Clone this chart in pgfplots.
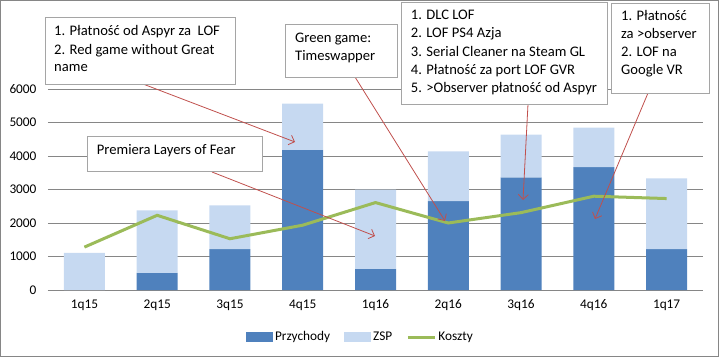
\documentclass[border=0pt]{standalone}
\usepackage{pgfplots}
\pgfplotsset{compat=1.18}
\usepackage{fontspec}
\setmainfont{Carlito}
\usetikzlibrary{arrows.meta}
\definecolor{przy}{HTML}{4F81BD}
\definecolor{zsp}{HTML}{C6D9F1}
\definecolor{kosz}{HTML}{9BBB59}
\definecolor{arr}{HTML}{C0504D}
\definecolor{gridc}{HTML}{868686}
\definecolor{boxc}{HTML}{A5A5A5}
\begin{document}
\begin{tikzpicture}[x=1pt,y=1pt]
\useasboundingbox (0,0) rectangle (719,357);
\draw[draw=gridc, line width=1pt] (0.5,0.5) rectangle (718.5,356.5);
\begin{axis}[
  at={(48pt,67pt)}, anchor=south west,
  scale only axis, width=655pt, height=201pt,
  xmin=-0.5, xmax=8.5, ymin=0, ymax=6000,
  enlargelimits=false,
  ybar stacked, bar width=41pt,
  reverse stacked plots=false,
  xtick={0,1,2,3,4,5,6,7,8},
  xticklabels={1q15,2q15,3q15,4q15,1q16,2q16,3q16,4q16,1q17},
  ytick={0,1000,2000,3000,4000,5000,6000},
  major tick length=0pt,
  ymajorgrids, grid style={gridc, line width=1pt},
  axis x line*=bottom, axis y line*=left,
  x axis line style={gridc, line width=1pt, -},
  y axis line style={draw=none},
  tick label style={font=\fontsize{13.3}{16}\selectfont},
  yticklabel style={xshift=-8pt},
  xticklabel style={yshift=-6pt},
  scaled y ticks=false,
  legend style={at={(0.477,-0.234)}, anchor=center, draw=none, fill=none,
    font=\fontsize{13.3}{16}\selectfont, legend columns=3,
    /tikz/every even column/.append style={column sep=12pt}},
  /pgf/number format/1000 sep={},
  /pgf/number format/assume math mode=true,
]
\addplot[fill=przy, draw=none,
  legend image code/.code={\fill[przy] (0pt,-5.3pt) rectangle (27pt,5.3pt);}]
  coordinates {(0,0) (1,510) (2,1220) (3,4180) (4,630) (5,2650) (6,3360) (7,3670) (8,1220)};
\addlegendentry{Przychody}
\addplot[fill=zsp, draw=none,
  legend image code/.code={\fill[zsp] (0pt,-5.3pt) rectangle (27pt,5.3pt);}]
  coordinates {(0,1110) (1,1870) (2,1310) (3,1380) (4,2370) (5,1490) (6,1280) (7,1180) (8,2110)};
\addlegendentry{ZSP}
\addplot[sharp plot, stack plots=false, draw=kosz, line width=3pt, mark=none,
  legend image code/.code={\draw[kosz, line width=3pt] (0pt,0pt) -- (27pt,0pt);}]
  coordinates {(0,1280) (1,2230) (2,1530) (3,1935) (4,2610) (5,2000) (6,2310) (7,2800) (8,2730)};
\addlegendentry{Koszty}
\end{axis}
\begin{scope}[shift={(0,357)}, yscale=-1]
  \tikzset{arw/.style={arr, line width=0.8pt, -{Straight Barb[length=5pt,width=10pt]}},
           bx/.style={draw=boxc, fill=white, line width=1pt},
           tx/.style={anchor=west, inner sep=0pt, text height=10pt, text depth=3pt,
                      font=\fontsize{14.6}{18}\selectfont}}
  \draw[arw] (143,84) -- (295,142);
  \draw[arw] (212,172) -- (375,236);
  \draw[arw] (355,77) -- (445,221);
  \draw[arw] (528,104) -- (523,200);
  \draw[arw] (648,93) -- (595,219);
  % box 1
  \draw[bx] (45,18) rectangle (235,84);
  \node[tx] at (54,32.3) {1. Płatność od Aspyr za\ \ LOF};
  \node[tx] at (54,50.7) {2. Red game without Great};
  \node[tx] at (54,68.3) {name};
  % box 2
  \draw[bx] (285,25) rectangle (397,77);
  \node[tx] at (295,39.3) {Green game:};
  \node[tx] at (295,57.3) {Timeswapper};
  % box 3
  \draw[bx] (401.7,2.5) rectangle (607.7,104);
  \node[tx] at (410.7,16) {1. DLC LOF};
  \node[tx] at (410.7,34.3) {2. LOF PS4 Azja};
  \node[tx] at (410.7,52.7) {3. Serial Cleaner na Steam GL};
  \node[tx] at (410.7,71) {4. Płatność za port LOF GVR};
  \node[tx] at (410.7,89) {5. >Observer płatność od Aspyr};
  % box 4
  \draw[bx] (611.7,4) rectangle (709,93);
  \node[tx] at (621,16.7) {1. Płatność};
  \node[tx] at (621,35) {za >observer};
  \node[tx] at (621,53.3) {2. LOF na};
  \node[tx] at (621,71) {Google VR};
  % box 5
  \draw[bx] (87,136) rectangle (262,171);
  \node[tx] at (96.7,150.7) {Premiera Layers of Fear};
\end{scope}
\end{tikzpicture}
\end{document}
